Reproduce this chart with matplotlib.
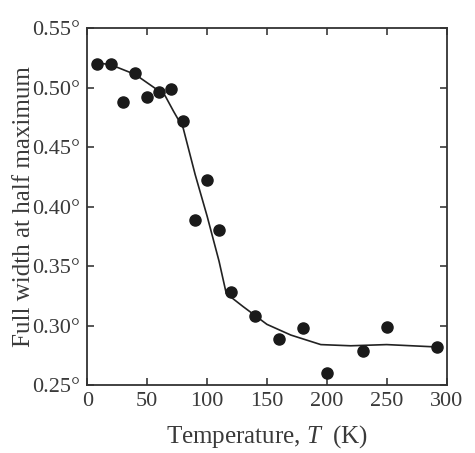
import matplotlib
matplotlib.use("Agg")
import matplotlib.pyplot as plt

plt.rcParams['font.family'] = ['Liberation Serif', 'DejaVu Serif']
plt.rcParams['mathtext.fontset'] = 'custom'
plt.rcParams['mathtext.it'] = 'Liberation Serif:italic'
plt.rcParams['mathtext.rm'] = 'Liberation Serif'

# measured points
temp = [8, 20, 30, 40, 50, 60, 70, 80, 90, 100, 110, 120, 140, 160, 180, 200, 230, 250, 292]
fwhm = [0.520, 0.520, 0.488, 0.512, 0.492, 0.496, 0.499, 0.472, 0.389, 0.422,
        0.380, 0.328, 0.308, 0.289, 0.298, 0.260, 0.279, 0.299, 0.282]

# guide line
temp_fit = [8, 20, 40, 60, 65, 72, 80, 90, 100, 110, 116, 130, 150, 170, 195, 220, 250, 292]
fwhm_fit = [0.521, 0.519, 0.511, 0.497, 0.493, 0.480, 0.466, 0.427, 0.392, 0.354, 0.327,
            0.316, 0.301, 0.292, 0.284, 0.283, 0.284, 0.282]

xticks = [0, 50, 100, 150, 200, 250, 300]
yticks = [0.25, 0.30, 0.35, 0.40, 0.45, 0.50, 0.55]

fig = plt.figure(figsize=(4.75, 4.53), dpi=100)
ax = fig.add_axes([0.184, 0.150, 0.756, 0.788])

ax.plot(temp_fit, fwhm_fit, color='#222222', lw=1.2, zorder=2)
ax.plot(temp, fwhm, 'o', color='#1a1a1a', ms=8, zorder=3)

ax.set_xlim(0, 300)
ax.set_ylim(0.25, 0.55)
ax.set_xticks(xticks)
ax.set_yticks(yticks)
ax.set_yticklabels([f"{v:.2f}°" for v in yticks])
ax.tick_params(direction='in', top=True, right=True, length=5, width=1.2,
               labelsize=16, colors='#3a3a3a', pad=5)
for s in ax.spines.values():
    s.set_linewidth(1.3)
    s.set_color('#333333')

ax.set_xlabel('Temperature, $T$  (K)', fontsize=18, color='#3a3a3a', labelpad=9)
ax.set_ylabel('Full width at half maximum', fontsize=18, color='#3a3a3a', labelpad=-2)

fig.savefig('out.png', dpi=100)
